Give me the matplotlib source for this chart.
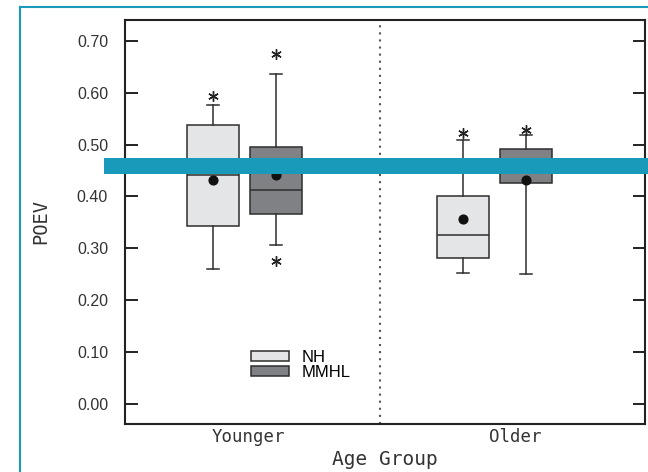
import matplotlib
matplotlib.use("Agg")
import matplotlib.pyplot as plt
from matplotlib.patches import Patch, Rectangle
from matplotlib.lines import Line2D

# Summary statistics per age group (Younger, Older)
groups = ["Younger", "Older"]
series = ["NH", "MMHL"]

nh_whislo = [0.260, 0.252]
nh_q1 = [0.344, 0.281]
nh_med = [0.441, 0.325]
nh_q3 = [0.538, 0.400]
nh_whishi = [0.577, 0.508]
nh_mean = [0.431, 0.356]
nh_fliers = [[0.594], [0.523]]

mmhl_whislo = [0.306, 0.250]
mmhl_q1 = [0.367, 0.425]
mmhl_med = [0.412, 0.458]
mmhl_q3 = [0.496, 0.492]
mmhl_whishi = [0.636, 0.519]
mmhl_mean = [0.442, 0.431]
mmhl_fliers = [[0.675, 0.275], [0.529]]

y_ticks = [0.00, 0.10, 0.20, 0.30, 0.40, 0.50, 0.60, 0.70]

NH_FILL = "#e4e5e7"
MMHL_FILL = "#7f8184"
EDGE = "#2e2e2e"
TEAL = "#1a9aba"
TEXT = "#333333"


def make_stats(whislo, q1, med, q3, whishi, mean, fliers):
    return [dict(whislo=whislo[i], q1=q1[i], med=med[i], q3=q3[i],
                 whishi=whishi[i], mean=mean[i], fliers=fliers[i])
            for i in range(len(whislo))]


nh_stats = make_stats(nh_whislo, nh_q1, nh_med, nh_q3, nh_whishi, nh_mean, nh_fliers)
mmhl_stats = make_stats(mmhl_whislo, mmhl_q1, mmhl_med, mmhl_q3, mmhl_whishi,
                        mmhl_mean, mmhl_fliers)

fig = plt.figure(figsize=(6.48, 4.72), dpi=100)
ax = fig.add_axes([124.7 / 648, 48 / 472, 520.3 / 648, 404.5 / 472])

centers = [1.0, 2.0]
offset = 0.126
box_w = 0.208
cap_w = 0.046


def draw(stats, positions, fill):
    ax.bxp(stats, positions=positions, widths=box_w, capwidths=cap_w,
           patch_artist=True, showmeans=True, showfliers=True,
           boxprops=dict(facecolor=fill, edgecolor=EDGE, linewidth=1.1),
           medianprops=dict(color=EDGE, linewidth=1.1),
           whiskerprops=dict(color=EDGE, linewidth=1.1),
           capprops=dict(color=EDGE, linewidth=1.1),
           meanprops=dict(marker="o", markerfacecolor="#111111",
                          markeredgecolor="#111111", markersize=6.3),
           flierprops=dict(marker=(6, 2, 0), markeredgecolor="#222222",
                           markerfacecolor="#222222", markersize=7.5,
                           markeredgewidth=1.0, linestyle="none"),
           manage_ticks=False)


draw(nh_stats, [c - offset for c in centers], NH_FILL)
draw(mmhl_stats, [c + offset for c in centers], MMHL_FILL)

# dotted separator between age groups
ax.axvline(1.542, color="#555555", linewidth=1.5, linestyle=(0, (1, 2.4)),
           zorder=1)

ax.set_xlim(0.5208, 2.602)
ax.set_ylim(-0.0385, 0.741)

ax.set_yticks(y_ticks)
ax.set_yticklabels([f"{v:.2f}" for v in y_ticks], fontfamily="Liberation Sans",
                   fontsize=11.5, color=TEXT)
ax.tick_params(axis="y", direction="in", length=9, width=1.4, color="#222222",
               left=True, right=True, pad=12)
ax.set_xticks([1.016, 2.082])
ax.set_xticklabels(groups, fontfamily="DejaVu Sans Mono", fontsize=12.5,
                   color=TEXT)
ax.tick_params(axis="x", length=0, pad=3)

ax.set_xlabel("Age Group", fontfamily="DejaVu Sans Mono", fontsize=14,
              color=TEXT, labelpad=2.5)
ax.set_ylabel("POEV", fontfamily="DejaVu Sans Mono", fontsize=13.5,
              color=TEXT, labelpad=19)

for s in ax.spines.values():
    s.set_linewidth(1.5)
    s.set_color("#222222")

handles = [Patch(facecolor=NH_FILL, edgecolor=EDGE, linewidth=1.1),
           Patch(facecolor=MMHL_FILL, edgecolor=EDGE, linewidth=1.1)]
ax.legend(handles, series, loc="center left", bbox_to_anchor=(0.2427, 0.146),
          frameon=False, prop=dict(family="Liberation Sans", size=12),
          handlelength=2.3, handleheight=0.55, handletextpad=0.75,
          labelspacing=0.0, borderpad=0, borderaxespad=0)

# teal frame lines and horizontal band
y_top = 1 - 7.3 / 472
fig.add_artist(Line2D([20 / 648, 20 / 648], [0, y_top], transform=fig.transFigure,
                      color=TEAL, linewidth=1.5))
fig.add_artist(Line2D([20 / 648, 1], [y_top, y_top], transform=fig.transFigure,
                      color=TEAL, linewidth=1.5))
fig.add_artist(Rectangle((104.3 / 648, 1 - 174 / 472), (648 - 104.3) / 648,
                         16 / 472, transform=fig.transFigure, facecolor=TEAL,
                         edgecolor="none", zorder=10))

fig.savefig("out.png", dpi=100)
